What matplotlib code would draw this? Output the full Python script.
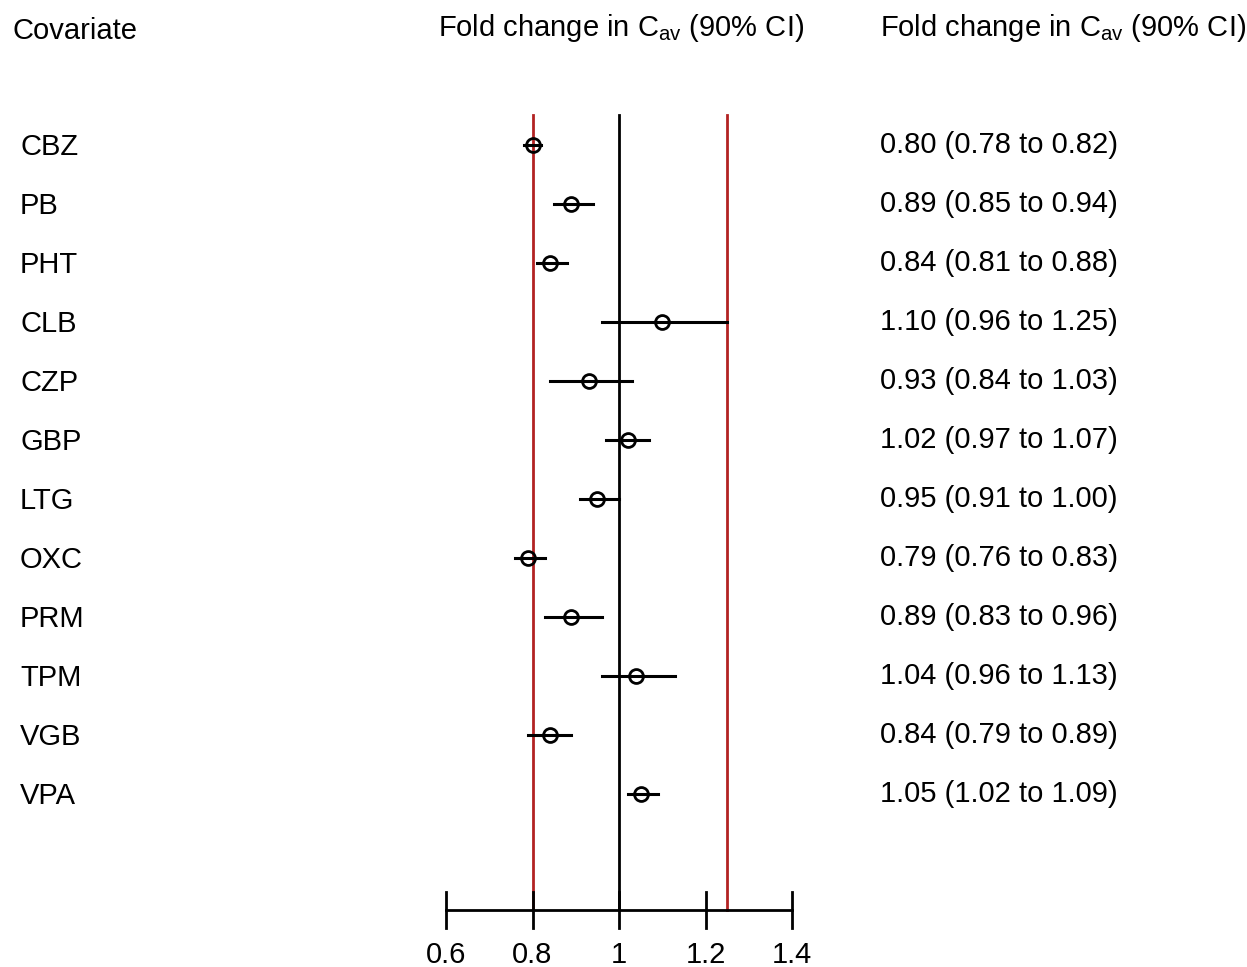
import matplotlib.pyplot as plt
from matplotlib.transforms import blended_transform_factory

plt.rcParams["font.family"] = ["Liberation Sans", "DejaVu Sans"]

covariates = ["CBZ", "PB", "PHT", "CLB", "CZP", "GBP",
              "LTG", "OXC", "PRM", "TPM", "VGB", "VPA"]
est = [0.80, 0.89, 0.84, 1.10, 0.93, 1.02, 0.95, 0.79, 0.89, 1.04, 0.84, 1.05]
lo = [0.78, 0.85, 0.81, 0.96, 0.84, 0.97, 0.91, 0.76, 0.83, 0.96, 0.79, 1.02]
hi = [0.82, 0.94, 0.88, 1.25, 1.03, 1.07, 1.00, 0.83, 0.96, 1.13, 0.89, 1.09]
ticks = [0.6, 0.8, 1.0, 1.2, 1.4]
tick_labels = ["0.6", "0.8", "1", "1.2", "1.4"]
ref_lines = [0.8, 1.25]

fig = plt.figure(figsize=(12.47, 9.67), dpi=100)
ax = fig.add_axes([0, 0, 1, 1])
ax.set_xlim(-0.4312, 2.452)
ax.set_ylim(13.93, -2.458)
ax.axis("off")

trans = blended_transform_factory(ax.transAxes, ax.transData)
fs = 21

# reference lines
y_top, y_axis = -0.508, 12.97
ax.plot([1, 1], [y_top, y_axis], color="black", lw=2, zorder=1)
for r in ref_lines:
    ax.plot([r, r], [y_top, y_axis], color="#b22222", lw=2, zorder=1)

# intervals and points
for i, name in enumerate(covariates):
    ax.plot([lo[i], hi[i]], [i, i], color="black", lw=2.2, zorder=2)
    ax.plot(est[i], i, marker="o", ms=10, mfc="none", mec="black",
            mew=2, zorder=3)
    ax.text(20 / 1247, i + 0.03, name, transform=trans, fontsize=fs,
            ha="left", va="center")
    ax.text(880 / 1247, i,
            f"{est[i]:.2f} ({lo[i]:.2f} to {hi[i]:.2f})",
            transform=trans, fontsize=fs, ha="left", va="center")

# bottom axis
ax.plot([ticks[0], ticks[-1]], [y_axis, y_axis], color="black", lw=2)
for t, lab in zip(ticks, tick_labels):
    ax.plot([t, t], [12.66, 13.27], color="black", lw=2)
    ax.text(t, 13.73, lab, fontsize=fs, ha="center", va="center")

# headers
ax.text(12 / 1247, -1.93, "Covariate", transform=trans, fontsize=fs,
        ha="left", va="center")
head = r"Fold change in C$_{\mathregular{av}}$ (90% CI)"
ax.text(438 / 1247, -1.98, head, transform=trans, fontsize=fs,
        ha="left", va="center")
ax.text(880 / 1247, -1.98, head, transform=trans, fontsize=fs,
        ha="left", va="center")

fig.savefig("out.png", dpi=100)
